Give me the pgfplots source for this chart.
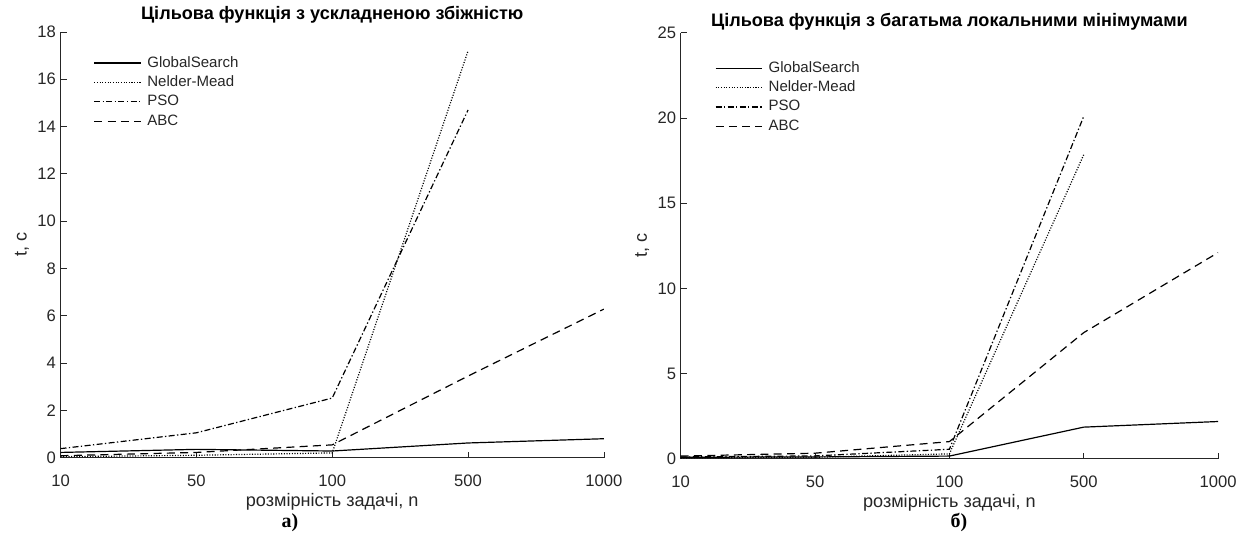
\documentclass[border=0pt]{standalone}
\usepackage{fontspec}
\setmainfont{Liberation Sans}
\newfontfamily\capserif{Liberation Serif}
\usepackage{pgfplots}
\pgfplotsset{compat=1.18}
\begin{document}
\pgfplotsset{
  myax/.style={
    scale only axis,
    axis x line*=bottom, axis y line*=left,
    axis line style={-, black!85, line width=0.6pt},
    tick align=inside, major tick length=4.5pt,
    tick style={black!85, line width=0.6pt},
    xmin=0, xmax=4, xtick={0,1,2,3,4},
    xticklabels={10,50,100,500,1000},
    ymin=0,
    /pgf/number format/assume math mode=true,
    ticklabel style={font=\fontsize{12.5}{14}\selectfont, text=black!85},
    xticklabel style={yshift=-9.5pt},
    every axis x label/.style={at={(axis description cs:0.5,0)}, anchor=center, yshift=-33.5pt,
      font=\fontsize{13.6}{15}\selectfont, text=black!85},
    every axis y label/.style={at={(axis description cs:0,0.5)}, xshift=-29pt, anchor=center, rotate=90,
      font=\fontsize{13.6}{15}\selectfont, text=black!85},
    every axis title shift=0pt,
    title style={font=\bfseries\fontsize{13.6}{16}\selectfont, anchor=center, at={(0.5,1)}},
    xlabel={розмірність задачі, n},
    ylabel={t, c},
    legend cell align=left,
    legend image code/.code={\draw[##1] (0pt,0pt) -- (35pt,0pt);},
    legend style={draw=none, fill=none, inner sep=0pt, row sep=3.6pt,
      font=\fontsize{11.3}{13}\selectfont, text=black!85,
      nodes={inner sep=0pt, text height=8.5pt, text depth=2.5pt},
      /tikz/every odd column/.append style={column sep=4.5pt}},
  },
  gs/.style={black, line width=0.9pt, solid},
  nm/.style={black, line width=0.9pt, dash pattern=on 0.8pt off 1.2pt},
  pso/.style={black, line width=0.9pt, dash pattern=on 4.5pt off 1.8pt on 1pt off 1.8pt},
  abc/.style={black, line width=0.9pt, dash pattern=on 6pt off 4pt},
}
\begin{tikzpicture}
\path[use as bounding box] (0pt,0pt) rectangle (935.25pt,406.5pt);
\begin{axis}[myax, at={(42.75pt,62.25pt)}, anchor=south west,
  width=408.75pt, height=320.25pt,
  ymax=18, ytick={0,2,...,18},
  title={Цільова функція з ускладненою збіжністю},
  title style={yshift=12.75pt},
  legend style={at={(0.0605,0.9446)}, anchor=north west}]
\addplot[gs] coordinates {(0,0.22) (1,0.35) (2,0.28) (3,0.62) (4,0.80)};
\addlegendentry{GlobalSearch}
\addplot[nm] coordinates {(0,0.04) (1,0.10) (2,0.20) (3,17.2)};
\addlegendentry{Nelder-Mead}
\addplot[pso] coordinates {(0,0.38) (1,1.05) (2,2.52) (3,14.7)};
\addlegendentry{PSO}
\addplot[abc] coordinates {(0,0.08) (1,0.22) (2,0.54) (3,3.45) (4,6.28)};
\addlegendentry{ABC}
\end{axis}
\begin{axis}[myax, at={(509.25pt,61.5pt)}, anchor=south west,
  width=404.25pt, height=320.25pt,
  ymax=25, ytick={0,5,...,25},
  title={Цільова функція з багатьма локальними мінімумами},
  title style={yshift=8.5pt},
  legend style={at={(0.0633,0.935)}, anchor=north west}]
\addplot[gs] coordinates {(0,0.08) (1,0.10) (2,0.15) (3,1.85) (4,2.18)};
\addlegendentry{GlobalSearch}
\addplot[nm] coordinates {(0,0.04) (1,0.08) (2,0.28) (3,17.85)};
\addlegendentry{Nelder-Mead}
\addplot[pso] coordinates {(0,0.10) (1,0.16) (2,0.55) (3,20.1)};
\addlegendentry{PSO}
\addplot[abc] coordinates {(0,0.15) (1,0.32) (2,1.0) (3,7.4) (4,12.1)};
\addlegendentry{ABC}
\end{axis}
\node[font=\capserif\bfseries\fontsize{15}{17}\selectfont] at (215.25pt,13.5pt) {а)};
\node[font=\capserif\bfseries\fontsize{15}{17}\selectfont] at (718.5pt,13.5pt) {б)};
\end{tikzpicture}
\end{document}
